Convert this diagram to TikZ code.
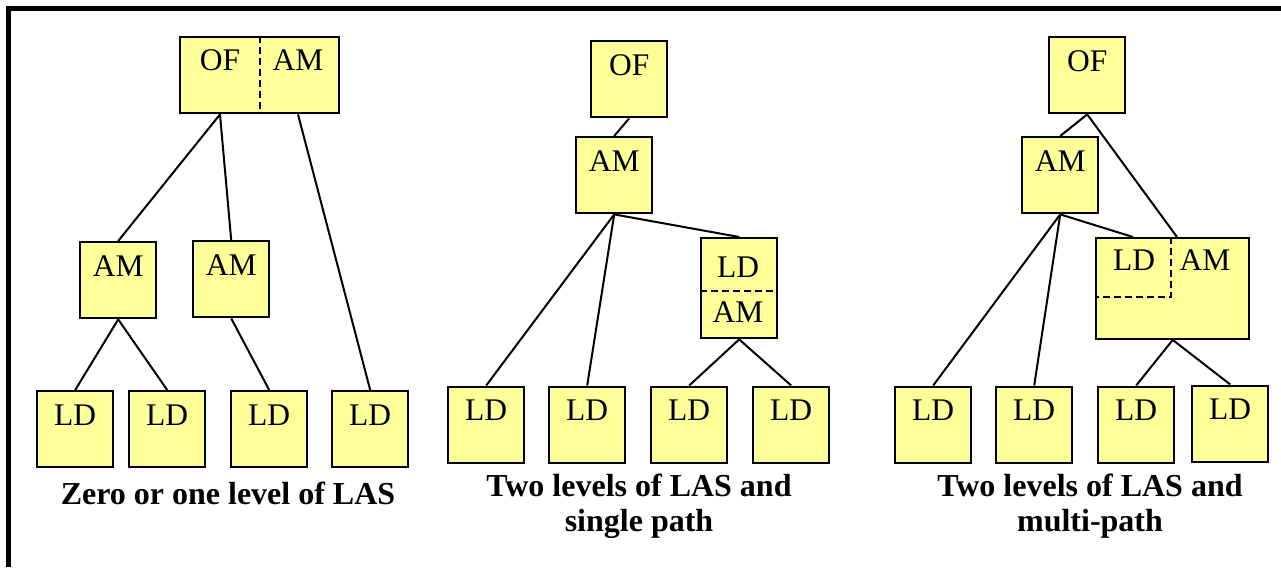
\documentclass[tikz,border=0pt]{standalone}
\usepackage{fontspec}
\setmainfont{Liberation Serif}
\usetikzlibrary{calc}
\definecolor{boxfill}{HTML}{FFFF99}
\begin{document}
\begin{tikzpicture}[x=1pt,y=-1pt,
  box/.style={draw, fill=boxfill, line width=2.4pt, inner sep=0pt, anchor=north west,
    minimum width=76pt, text height=34pt, text depth=42pt,
    font=\fontsize{31.5}{34}\selectfont},
  widebox/.style={box, text height=0pt, text depth=0pt},
  lbl/.style={anchor=base, inner sep=0pt, font=\fontsize{31.5}{34}\selectfont},
  captext/.style={anchor=base, inner sep=0pt, font=\fontsize{32}{34}\selectfont\bfseries},
  link/.style={line width=2pt},
  divider/.style={line width=2pt, dash pattern=on 7pt off 4pt},
  frame/.style={line width=5pt}]
\useasboundingbox (0,0) rectangle (1281,567);
% frame
\coordinate (fbl) at (8.5,567);
\coordinate (ftl) at (8.5,9);
\coordinate (ftr) at (1281,9);
\draw[frame] (fbl) -- (ftl) -- (ftr);

% ---------- Section 1 ----------
\node[widebox, minimum width=159pt, minimum height=76pt] (s1top) at (179,36) {};
\draw[divider] (s1top.north) -- (s1top.south);
\node[lbl] (s1of) at (220,71) {OF};
\node[lbl] (s1amt) at (298,71) {AM};
\node[box] (s1am1) at (79,241) {AM};
\node[box] (s1am2) at (192,240) {AM};
\node[box] (s1ld1) at (36,390) {LD};
\node[box] (s1ld2) at (128,390) {LD};
\node[box] (s1ld3) at (230,390) {LD};
\node[box] (s1ld4) at (331,390) {LD};
\draw[link] (s1of |- s1top.south) -- (s1am1.north);
\draw[link] (s1of |- s1top.south) -- (s1am2.north);
\draw[link] (s1amt |- s1top.south) -- (s1ld4.north);
\draw[link] (s1am1.south) -- (s1ld1.north);
\draw[link] (s1am1.south) -- (s1ld2.north);
\draw[link] (s1am2.south) -- (s1ld3.north);
\node[captext] (s1cap) at (228,504) {Zero or one level of LAS};

% ---------- Section 2 ----------
\node[box] (s2of) at (590,40) {OF};
\node[box] (s2am) at (575,136) {AM};
\node[widebox, minimum height=100pt] (s2mix) at (700,237) {};
\draw[divider] ($(s2mix.north west)+(0,54)$) -- ($(s2mix.north east)+(0,54)$);
\node[lbl] (s2mixld) at (738,277) {LD};
\node[lbl] (s2mixam) at (738,322.5) {AM};
\node[box] (s2ld1) at (447,385.5) {LD};
\node[box] (s2ld2) at (548,385.5) {LD};
\node[box] (s2ld3) at (650,385.5) {LD};
\node[box] (s2ld4) at (752,385.5) {LD};
\draw[link] (s2of.south) -- (s2am.north);
\draw[link] (s2am.south) -- (s2ld1.north);
\draw[link] (s2am.south) -- (s2ld2.north);
\draw[link] (s2am.south) -- (s2mix.north);
\draw[link] (s2mix.south) -- (s2ld3.north);
\draw[link] (s2mix.south) -- (s2ld4.north);
\node[captext] (s2capa) at (639,496.5) {Two levels of LAS and};
\node[captext] (s2capb) at (639,531.5) {single path};

% ---------- Section 3 ----------
\node[box] (s3of) at (1048,36) {OF};
\node[box] (s3am) at (1021,136) {AM};
\node[widebox, minimum width=153pt, minimum height=100.5pt] (s3mix) at (1095,237) {};
\coordinate (s3corner) at (1171,297);
\draw[divider] (s3corner |- s3mix.north) -- (s3corner) -- (s3corner -| s3mix.west);
\node[lbl] (s3mixld) at (1134,270.5) {LD};
\node[lbl] (s3mixam) at (1205,270.5) {AM};
\coordinate (s3ldin) at (1133,237);
\coordinate (s3amin) at (1177,237);
\node[box] (s3ld1) at (894,385.5) {LD};
\node[box] (s3ld2) at (995,385.5) {LD};
\node[box] (s3ld3) at (1097,385.5) {LD};
\node[box] (s3ld4) at (1191,384.5) {LD};
\draw[link] (s3of.south) -- (s3am.north);
\draw[link] (s3of.south) -- (s3amin);
\draw[link] (s3am.south) -- (s3ld1.north);
\draw[link] (s3am.south) -- (s3ld2.north);
\draw[link] (s3am.south) -- (s3ldin);
\draw[link] (s3mix.south) -- (s3ld3.north);
\draw[link] (s3mix.south) -- (s3ld4.north);
\node[captext] (s3capa) at (1090,496.5) {Two levels of LAS and};
\node[captext] (s3capb) at (1090,531.5) {multi-path};
\end{tikzpicture}
\end{document}
